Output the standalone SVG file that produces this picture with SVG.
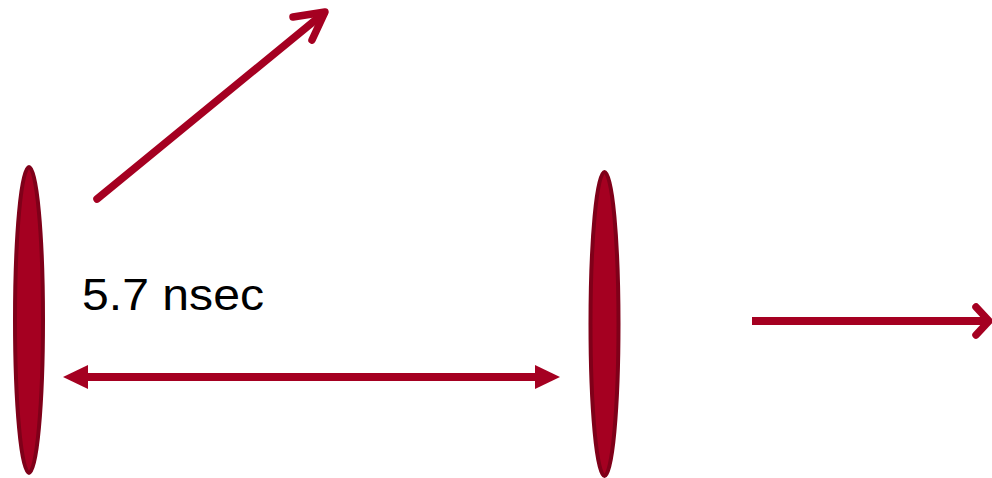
<svg xmlns="http://www.w3.org/2000/svg" width="992" height="478" viewBox="0 0 992 478">
<style>
.lens{fill:#a50021;stroke:#7f0019;stroke-width:4}
.ln{stroke:#a50021;stroke-width:7.5;fill:none;stroke-linecap:round;stroke-linejoin:round}
.ln2{stroke:#a50021;stroke-width:8;fill:none}
.hd{fill:#a50021}
.lbl{font-family:"Liberation Sans",Arial,sans-serif;font-size:44px;fill:#000}
</style>
<rect width="992" height="478" fill="#fff"/>
<g id="lens-left"><ellipse class="lens" cx="29" cy="320" rx="14" ry="153"/></g>
<g id="lens-right"><ellipse class="lens" cx="604.5" cy="324" rx="14" ry="152"/></g>
<g id="label"><text class="lbl" x="82" y="310" textLength="182" lengthAdjust="spacingAndGlyphs">5.7 nsec</text></g>
<g id="connectors">
<line class="ln2" x1="86" y1="377" x2="538" y2="377"/>
<polygon class="hd" points="63,377 88,365 88,389"/>
<polygon class="hd" points="560,377 535,365 535,389"/>
<line class="ln" x1="97" y1="199" x2="324" y2="13"/>
<polyline class="ln" points="293,17 325,12 312,40"/>
<line class="ln2" x1="752" y1="321" x2="986" y2="321"/>
<polyline class="ln" points="976,307 989,321 976,335"/>
</g>
</svg>
